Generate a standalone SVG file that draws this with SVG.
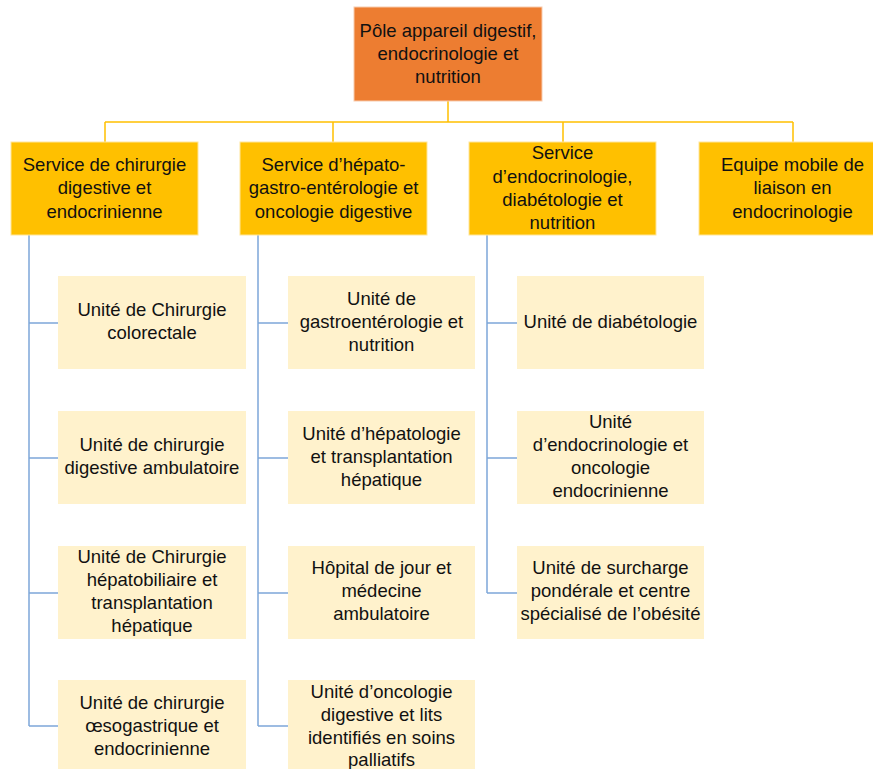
<svg xmlns="http://www.w3.org/2000/svg" width="873" height="769" viewBox="0 0 873 769">
<style>
text{font-family:"Liberation Sans",Arial,sans-serif;font-size:18.5px;fill:#111;text-anchor:middle}
.top{fill:#ED7D31;stroke:#F8CBAD;stroke-width:1}
.l1{fill:#FFC000;stroke:#FFE699;stroke-width:1}
.l2{fill:#FFF2CC;stroke:none}
.y{stroke:#FFC000;stroke-width:1.5;fill:none}
.b{stroke:#7DA7D9;stroke-width:1.5;fill:none}
</style>
<rect width="873" height="769" fill="#fff"/>
<g id="connectors">
<path class="y" d="M448,101V122M105,122H793M105,122V142M333,122V142M563,122V142M793,122V142"/>
<path class="b" d="M29,235V726M29,323H58M29,458H58M29,593H58M29,726H58"/>
<path class="b" d="M258,235V726M258,323H288M258,458H288M258,593H288M258,726H288"/>
<path class="b" d="M487,235V593M487,323H517M487,458H517M487,593H517"/>
</g>
<g id="pole"><rect class="top" x="354" y="7" width="188" height="94"/><text x="448" y="37">Pôle appareil digestif,</text><text x="448" y="60">endocrinologie et</text><text x="448" y="83">nutrition</text></g>
<g id="s1"><rect class="l1" x="11" y="142" width="187" height="93"/><text x="104.5" y="171">Service de chirurgie</text><text x="104.5" y="194">digestive et</text><text x="104.5" y="218">endocrinienne</text></g>
<g id="s2"><rect class="l1" x="240" y="142" width="187" height="93"/><text x="333.5" y="171">Service d’hépato-</text><text x="333.5" y="194">gastro-entérologie et</text><text x="333.5" y="218">oncologie digestive</text></g>
<g id="s3"><rect class="l1" x="469" y="142" width="187" height="93"/><text x="562.5" y="159">Service</text><text x="562.5" y="183">d’endocrinologie,</text><text x="562.5" y="206">diabétologie et</text><text x="562.5" y="229">nutrition</text></g>
<g id="s4"><rect class="l1" x="699" y="142" width="187" height="93"/><text x="792.5" y="171">Equipe mobile de</text><text x="792.5" y="194">liaison en</text><text x="792.5" y="218">endocrinologie</text></g>
<g id="u11"><rect class="l2" x="58" y="276" width="188" height="93"/><text x="152" y="316">Unité de Chirurgie</text><text x="152" y="339">colorectale</text></g>
<g id="u12"><rect class="l2" x="58" y="411" width="188" height="93"/><text x="152" y="451">Unité de chirurgie</text><text x="152" y="474">digestive ambulatoire</text></g>
<g id="u13"><rect class="l2" x="58" y="546" width="188" height="93"/><text x="152" y="563">Unité de Chirurgie</text><text x="152" y="586">hépatobiliaire et</text><text x="152" y="609">transplantation</text><text x="152" y="632">hépatique</text></g>
<g id="u14"><rect class="l2" x="58" y="680" width="188" height="93"/><text x="152" y="709">Unité de chirurgie</text><text x="152" y="732">œsogastrique et</text><text x="152" y="755">endocrinienne</text></g>
<g id="u21"><rect class="l2" x="288" y="276" width="187" height="93"/><text x="381.5" y="305">Unité de</text><text x="381.5" y="328">gastroentérologie et</text><text x="381.5" y="351">nutrition</text></g>
<g id="u22"><rect class="l2" x="288" y="411" width="187" height="93"/><text x="381.5" y="440">Unité d’hépatologie</text><text x="381.5" y="463">et transplantation</text><text x="381.5" y="486">hépatique</text></g>
<g id="u23"><rect class="l2" x="288" y="546" width="187" height="93"/><text x="381.5" y="574">Hôpital de jour et</text><text x="381.5" y="597">médecine</text><text x="381.5" y="620">ambulatoire</text></g>
<g id="u24"><rect class="l2" x="288" y="680" width="187" height="93"/><text x="381.5" y="698">Unité d’oncologie</text><text x="381.5" y="721">digestive et lits</text><text x="381.5" y="744">identifiés en soins</text><text x="381.5" y="766">palliatifs</text></g>
<g id="u31"><rect class="l2" x="517" y="276" width="187" height="93"/><text x="610.5" y="328">Unité de diabétologie</text></g>
<g id="u32"><rect class="l2" x="517" y="411" width="187" height="93"/><text x="610.5" y="428">Unité</text><text x="610.5" y="451">d’endocrinologie et</text><text x="610.5" y="474">oncologie</text><text x="610.5" y="497">endocrinienne</text></g>
<g id="u33"><rect class="l2" x="517" y="546" width="187" height="93"/><text x="610.5" y="574">Unité de surcharge</text><text x="610.5" y="597">pondérale et centre</text><text x="610.5" y="620">spécialisé de l’obésité</text></g>
</svg>
